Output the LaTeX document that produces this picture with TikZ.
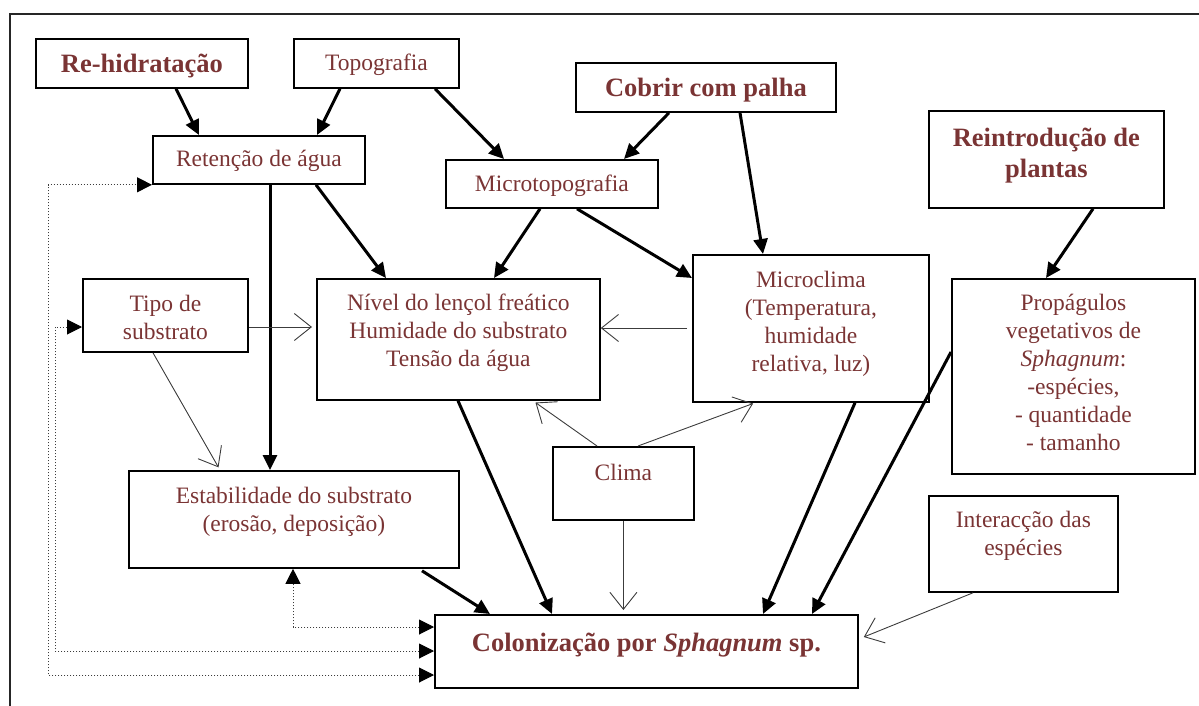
\documentclass[tikz,border=0pt]{standalone}
\usepackage{fontspec}
\setmainfont{Liberation Serif}
\usetikzlibrary{arrows.meta,calc}
\definecolor{txt}{RGB}{122,52,52}
\definecolor{thinc}{RGB}{60,60,60}
\begin{document}
\begin{tikzpicture}[x=1pt,y=-1pt,
  box/.style={draw=black, line width=1.8pt, inner sep=0pt, anchor=north west},
  reg/.style={font=\fontsize{23.5}{28}\selectfont, text=txt, align=center, inner sep=0pt, anchor=base},
  bld/.style={font=\fontsize{26.5}{31}\selectfont\bfseries, text=txt, align=center, inner sep=0pt, anchor=base},
  thickarrow/.style={line width=3pt, -{Triangle[length=15pt,width=14pt]}},
  thinarrow/.style={line width=0.9pt, draw=thinc, -{Straight Barb[length=17pt,width=27pt]}},
  dotarrow/.style={line width=1pt, dotted, draw=thinc, {Triangle[length=15pt,width=15pt,color=black]}-{Triangle[length=15pt,width=15pt,color=black]}},
  frameline/.style={line width=1.4pt, draw=black!85}
]
\useasboundingbox (0,0) rectangle (1199,706);
\draw[frameline] (10,706) -- (10,14) -- (1199,14);

% boxes (text labels anchored at the baseline of their last line)
\node[box, minimum width=212pt, minimum height=49pt, label={[bld, yshift=-35pt]north:Re-hidratação}] (rh) at (35,38) {};
\node[box, minimum width=165pt, minimum height=49pt, label={[reg, yshift=-33pt]north:Topografia}] (topo) at (293,38) {};
\node[box, minimum width=260pt, minimum height=49pt, label={[bld, yshift=-35pt]north:Cobrir com palha}] (cob) at (575,62) {};
\node[box, minimum width=212pt, minimum height=48pt, label={[reg, yshift=-32pt]north:Retenção de água}] (ret) at (152,135) {};
\node[box, minimum width=212pt, minimum height=48pt, label={[reg, yshift=-32pt]north:Microtopografia}] (micro) at (445,159) {};
\node[box, minimum width=235pt, minimum height=97pt, label={[bld, yshift=-67pt]north:Reintrodução de\\plantas}] (rein) at (928,110) {};
\node[box, minimum width=165pt, minimum height=73pt, label={[reg, yshift=-61pt]north:Tipo de\\substrato}] (tipo) at (82,278) {};
\node[box, minimum width=283pt, minimum height=121pt, label={[reg, yshift=-88pt]north:Nível do lençol freático\\Humidade do substrato\\Tensão da água}] (niv) at (316,278) {};
\node[box, minimum width=236pt, minimum height=147pt, label={[reg, yshift=-117pt]north:Microclima\\(Temperatura,\\humidade\\relativa, luz)}] (mclim) at (692,254) {};
\node[box, minimum width=243pt, minimum height=195pt, label={[reg, yshift=-172pt]north:Propágulos\\vegetativos de\\\textit{Sphagnum}:\\-espécies,\\- quantidade\\- tamanho}] (prop) at (951,278) {};
\node[box, minimum width=141pt, minimum height=73pt, label={[reg, yshift=-34pt]north:Clima}] (clima) at (552,446) {};
\node[box, minimum width=330pt, minimum height=97pt, label={[reg, yshift=-61pt]north:Estabilidade do substrato\\(erosão, deposição)}] (est) at (128,470) {};
\node[box, minimum width=189pt, minimum height=96pt, label={[reg, yshift=-60pt]north:Interacção das\\espécies}] (int) at (928,495) {};
\node[box, minimum width=423pt, minimum height=73pt, label={[bld, yshift=-37pt]north:Colonização por \textit{Sphagnum} sp.}] (col) at (434,614) {};

% thick arrows
\draw[thickarrow] ([xshift=141pt]rh.south west) -- ([xshift=47pt]ret.north west);
\draw[thickarrow] ([xshift=47pt]topo.south west) -- ([xshift=165pt]ret.north west);
\draw[thickarrow] ([xshift=142pt]topo.south west) -- ([xshift=59pt]micro.north west);
\draw[thickarrow] ([xshift=94pt]cob.south west) -- ([xshift=179pt]micro.north west);
\draw[thickarrow] ([xshift=165pt]cob.south west) -- ([xshift=71pt]mclim.north west);
\draw[thickarrow] ([xshift=165pt]rein.south west) -- ([xshift=95pt]prop.north west);
\draw[thickarrow] ([xshift=118pt]ret.south west) -- ([xshift=142pt]est.north west);
\draw[thickarrow] ([xshift=164pt]ret.south west) -- ([xshift=70pt]niv.north west);
\draw[thickarrow] ([xshift=95pt]micro.south west) -- ([xshift=178pt]niv.north west);
\draw[thickarrow] ([xshift=132pt]micro.south west) -- ([yshift=-24pt]mclim.north west);
\draw[thickarrow] ([xshift=142pt]niv.south west) -- ([xshift=118pt]col.north west);
\draw[thickarrow] ([xshift=163pt]mclim.south west) -- ([xshift=329pt]col.north west);
\draw[thickarrow] ([yshift=-74pt]prop.north west) -- ([xshift=378pt]col.north west);
\draw[thickarrow] ([xshift=294pt,yshift=-2pt]est.south west) -- ([xshift=56pt]col.north west);

% thin arrows
\draw[thinarrow, shorten >=4pt] ([yshift=-49pt]tipo.north east) -- ([yshift=-49pt]niv.north west);
\draw[thinarrow, shorten <=5pt] ([yshift=-74pt]mclim.north west) -- ([yshift=-50pt]niv.north east);
\draw[thinarrow, shorten >=3pt] ([xshift=71pt]tipo.south west) -- ([xshift=92pt]est.north west);
\draw[thinarrow, shorten >=3pt] ([xshift=45pt]clima.north west) -- ([xshift=217pt]niv.south west);
\draw[thinarrow, shorten >=2pt] ([xshift=86pt]clima.north west) -- ([xshift=63pt]mclim.south west);
\draw[thinarrow, shorten >=4pt] (clima.south) -- (clima.south |- col.north);
\draw[thinarrow] ([xshift=45pt]int.south west) -- ([xshift=5pt,yshift=-23pt]col.north east);

% dotted feedback arrows
\draw[dotarrow] ([yshift=-13pt]col.north west) -| ([xshift=165pt]est.south west);
\draw[dotarrow] ([yshift=-37pt]col.north west) -| ([xshift=-27pt,yshift=-49pt]tipo.north west) -- ([yshift=-49pt]tipo.north west);
\draw[dotarrow] ([yshift=-61pt]col.north west) -| ([xshift=-104pt]ret.south west) -- (ret.south west);
\end{tikzpicture}
\end{document}
